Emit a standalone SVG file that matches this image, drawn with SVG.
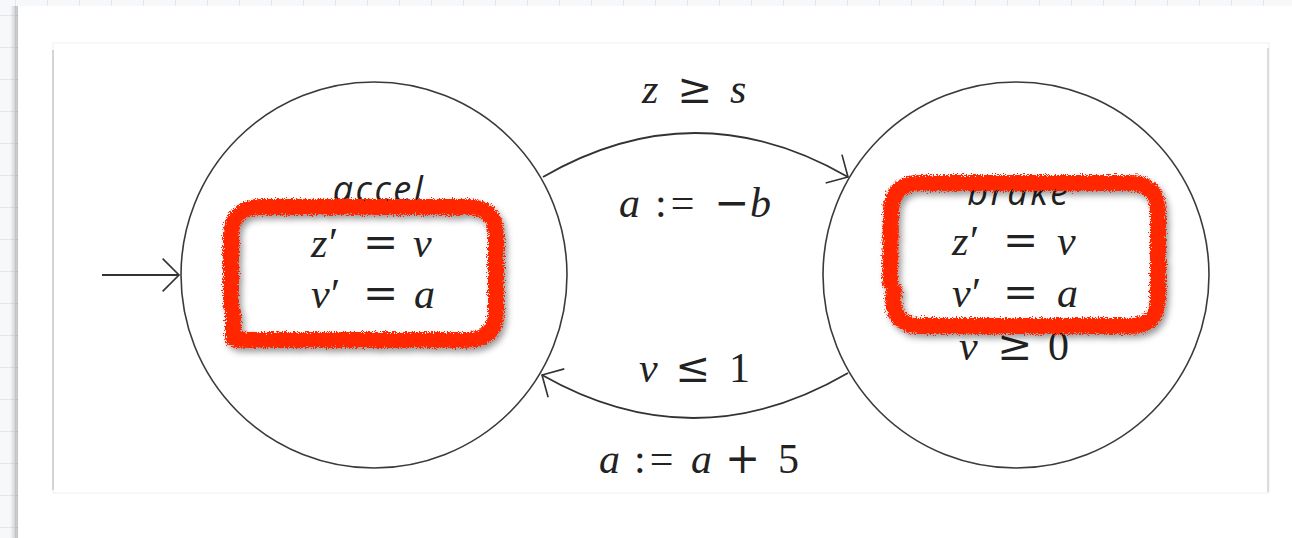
<svg xmlns="http://www.w3.org/2000/svg" width="1292" height="538" viewBox="0 0 1292 538">
<style>
.st{fill:none;stroke:#3a3a3a;stroke-width:1.6}
.ed{fill:none;stroke:#333;stroke-width:1.8}
.nm{font-family:'Open Sans','DejaVu Sans',sans-serif;font-style:italic;font-size:36px;letter-spacing:2.5px;fill:#222}
.hl{fill:none;stroke:#ff2600;stroke-width:16;stroke-linecap:round;stroke-linejoin:round}
.as{letter-spacing:4px}
</style>
<defs>
<pattern id="grid" x="15" y="15" width="32" height="32" patternUnits="userSpaceOnUse">
<rect width="32" height="32" fill="#f6f8fa"/>
<path d="M0 0.5H32M0.5 0V32" stroke="#e1e7ec" stroke-width="1"/>
</pattern>
<linearGradient id="lsh" x1="0" x2="1" y1="0" y2="0">
<stop offset="0" stop-color="#000" stop-opacity="0"/>
<stop offset="1" stop-color="#000" stop-opacity="0.22"/>
</linearGradient>
<marker id="arr" markerUnits="userSpaceOnUse" markerWidth="40" markerHeight="40" viewBox="-22 -22 26 44" refX="0" refY="0" orient="auto" overflow="visible">
<path d="M-18,-18 L0,0 L-18,18" fill="none" stroke="#333" stroke-width="1.8"/>
</marker>
<filter id="rough" x="-15%" y="-20%" width="135%" height="150%">
<feTurbulence type="fractalNoise" baseFrequency="0.9" numOctaves="2" seed="3" result="n"/>
<feDisplacementMap in="SourceGraphic" in2="n" scale="8" xChannelSelector="R" yChannelSelector="G" result="d"/>
<feGaussianBlur in="d" stdDeviation="3" result="b"/>
<feOffset in="b" dx="3" dy="4" result="ob"/>
<feFlood flood-color="#000" flood-opacity="0.4"/>
<feComposite in2="ob" operator="in" result="sh"/>
<feMerge><feMergeNode in="sh"/><feMergeNode in="d"/></feMerge>
</filter>
</defs>

<rect width="1292" height="538" fill="url(#grid)"/>
<rect x="10" y="6" width="8" height="532" fill="url(#lsh)"/>
<rect x="18" y="6" width="1274" height="532" fill="#fff"/>

<g id="card">
<rect x="53" y="43" width="1216" height="450" fill="#fff" stroke="#efefef" stroke-width="1"/>
<line x1="53" y1="50" x2="53" y2="490" stroke="#c9c9c9" stroke-width="1.5"/>
<line x1="1268" y1="48" x2="1268" y2="492" stroke="#d2d2d2" stroke-width="1.5"/>
</g>

<g id="edges">
<path class="ed" d="M102,275 L179,275" marker-end="url(#arr)"/>
<path class="ed" d="M543,177 Q695,89 848,177" marker-end="url(#arr)"/>
<path class="ed" d="M848,373 Q695,462 542,375" marker-end="url(#arr)"/>
</g>

<g id="edge-labels" font-family="Liberation Serif, Times New Roman, serif" font-size="42" fill="#222">
<text id="lbl-guard1" y="103"><tspan font-style="italic" x="642">z</tspan><tspan font-family="DejaVu Serif, serif" x="677">≥</tspan><tspan font-style="italic" x="730">s</tspan></text>
<text id="lbl-reset1" y="217"><tspan font-style="italic" x="619">a</tspan><tspan class="as" x="655">:=</tspan><tspan font-family="DejaVu Serif, serif" x="714">−</tspan><tspan font-style="italic" x="750">b</tspan></text>
<text id="lbl-guard2" y="382"><tspan font-style="italic" x="639">v</tspan><tspan font-family="DejaVu Serif, serif" x="675">≤</tspan><tspan x="729">1</tspan></text>
<text id="lbl-reset2" y="473"><tspan font-style="italic" x="599">a</tspan><tspan class="as" x="634">:=</tspan><tspan font-style="italic" x="691">a</tspan><tspan font-family="DejaVu Serif, serif" x="725">+</tspan><tspan x="778">5</tspan></text>
</g>

<g id="accel" font-family="Liberation Serif, Times New Roman, serif" font-size="42" fill="#222">
<circle class="st" cx="374" cy="275" r="193"/>
<text class="nm" x="379" y="202" text-anchor="middle">accel</text>
<text y="257"><tspan font-style="italic" x="311">z</tspan><tspan x="329">′</tspan><tspan font-family="DejaVu Serif, serif" x="363">=</tspan><tspan font-style="italic" x="413">v</tspan></text>
<text y="308"><tspan font-style="italic" x="311">v</tspan><tspan x="331">′</tspan><tspan font-family="DejaVu Serif, serif" x="363">=</tspan><tspan font-style="italic" x="414">a</tspan></text>
</g>

<g id="brake" font-family="Liberation Serif, Times New Roman, serif" font-size="42" fill="#222">
<circle class="st" cx="1016" cy="275" r="193"/>
<text class="nm" x="1019" y="205" text-anchor="middle">brake</text>
<text y="255"><tspan font-style="italic" x="952">z</tspan><tspan x="970">′</tspan><tspan font-family="DejaVu Serif, serif" x="1003">=</tspan><tspan font-style="italic" x="1057">v</tspan></text>
<text y="307"><tspan font-style="italic" x="952">v</tspan><tspan x="972">′</tspan><tspan font-family="DejaVu Serif, serif" x="1003">=</tspan><tspan font-style="italic" x="1057">a</tspan></text>
<text y="360"><tspan font-style="italic" x="959">v</tspan><tspan font-family="DejaVu Serif, serif" x="997">≥</tspan><tspan x="1048">0</tspan></text>
</g>

<g id="highlights" filter="url(#rough)">
<path class="hl" d="M233,312 L233,338 Q233,340 262,340 L466,340 Q496,340 496,312 L496,236 Q496,207 468,207 L262,207 Q231,207 231,236 L231,305"/>
<path class="hl" d="M894,290 L893,298 Q893,326 922,326 L1130,326 Q1158,326 1158,298 L1158,212 Q1158,183 1130,183 L920,183 Q891,183 891,212 L890,281"/>
</g>
</svg>
